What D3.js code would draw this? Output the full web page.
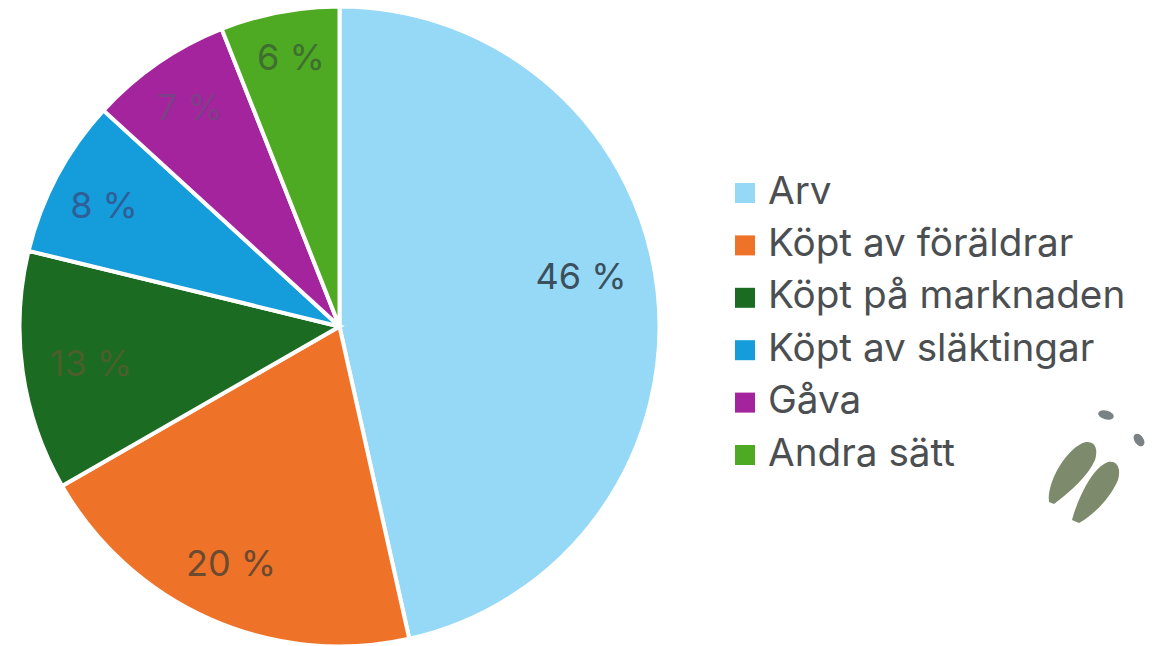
<!DOCTYPE html>
<html><head><meta charset="utf-8">
<script src="https://cdn.jsdelivr.net/npm/d3@7"></script>
<style>html,body{margin:0;padding:0;background:#fff}svg{display:block}text{font-family:Inter,"DejaVu Sans",sans-serif}</style>
</head><body>
<svg id="c" width="1153" height="646"></svg>
<script>
const categories=["Arv","Köpt av föräldrar","Köpt på marknaden","Köpt av släktingar","Gåva","Andra sätt"];
const values=[46.5,20.2,12.1,8.0,7.2,6.0];
const labels=["46 %","20 %","13 %","8 %","7 %","6 %"];
const colors=["#96d9f7","#ef7229","#1b6b22","#149cdb","#a3249c","#4eaa22"];
const labelColors=["#3c4f5c","#6b4a30","#4a5f2c","#2f5f96","#7d3f88","#3f6f30"];
const labelPos=[[581,279],[231,566],[91,366],[104,208],[190,110],[291,60]];
const svg=d3.select("#c");
const cx=339.5,cy=326.5,r=320;
const pie=d3.pie().sort(null).value(d=>d)(values);
const arc=d3.arc().innerRadius(0).outerRadius(r);
const g=svg.append("g").attr("transform",`translate(${cx},${cy})`);
g.selectAll("path").data(pie).join("path").attr("d",arc).attr("fill",(d,i)=>colors[i]).attr("stroke","#fff").attr("stroke-width",4);
svg.selectAll("text.lab").data(labels).join("text").attr("class","lab")
 .attr("x",(d,i)=>labelPos[i][0]).attr("y",(d,i)=>labelPos[i][1]).attr("text-anchor","middle").attr("dominant-baseline","middle")
 .attr("font-size",36).attr("fill",(d,i)=>labelColors[i]).text(d=>d);
const ly=d3.scalePoint().domain(categories).range([193,455]);
const leg=svg.selectAll("g.leg").data(categories).join("g").attr("class","leg").attr("transform",d=>`translate(735,${ly(d)})`);
leg.append("rect").attr("y",-10).attr("width",20).attr("height",20).attr("fill",(d,i)=>colors[i]);
leg.append("text").attr("x",33).attr("dominant-baseline","middle").attr("font-size",38.7).attr("fill","#4b4f52").text(d=>d);
const deco=svg.append("g").attr("class","decoration");
deco.append("path").attr("d","M1049,502 C1046,482 1068,446 1086,442 C1096,441 1098,450 1095,460 C1088,476 1070,492 1054,504 Z").attr("fill","#7d8a6c");
deco.append("path").attr("d","M1072,520 C1078,498 1092,468 1108,462 C1118,460 1121,470 1118,480 C1110,498 1095,514 1079,523 Z").attr("fill","#7d8a6c");
deco.append("ellipse").attr("rx",8).attr("ry",4.5).attr("transform","translate(1106,415) rotate(15)").attr("fill","#7b8285");
deco.append("ellipse").attr("rx",7).attr("ry",4.5).attr("transform","translate(1139,440) rotate(55)").attr("fill","#7b8285");
</script>
</body></html>
